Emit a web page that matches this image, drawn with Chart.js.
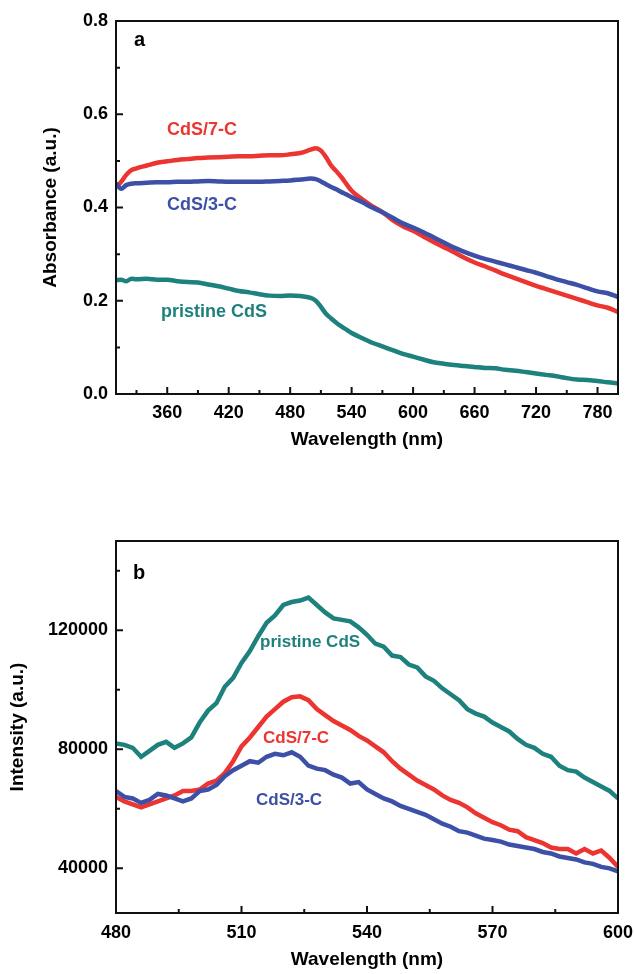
<!DOCTYPE html>
<html>
<head>
<meta charset="utf-8">
<script src="https://cdn.jsdelivr.net/npm/chart.js@4.4.1/dist/chart.umd.min.js"></script>
<style>
  html, body { margin: 0; padding: 0; background: #fff; }
  #wrap { position: relative; width: 634px; height: 974px; }
  .box { position: absolute; left: 0; width: 634px; }
</style>
</head>
<body>
<div id="wrap">
  <div class="box" style="top:0;height:470px"><canvas id="absChart"></canvas></div>
  <div class="box" style="top:470px;height:504px"><canvas id="plChart"></canvas></div>
</div>
<script>
// panel a - UV-vis absorbance
const wavelengthA = [310, 315, 320, 325, 330, 340, 350, 360, 370, 380, 390, 400, 410, 420, 430, 440, 450, 460, 470, 480, 490, 500, 505, 510, 515, 520, 525, 530, 535, 540, 550, 560, 570, 580, 590, 600, 610, 620, 630, 640, 650, 660, 670, 680, 690, 700, 710, 720, 730, 740, 750, 760, 770, 780, 790, 800];
const abs7C = [0.444, 0.455, 0.470, 0.480, 0.484, 0.490, 0.496, 0.499, 0.502, 0.504, 0.506, 0.507, 0.508, 0.509, 0.510, 0.510, 0.511, 0.512, 0.512, 0.514, 0.517, 0.524, 0.527, 0.522, 0.508, 0.490, 0.478, 0.465, 0.450, 0.436, 0.418, 0.403, 0.390, 0.373, 0.360, 0.350, 0.338, 0.326, 0.315, 0.304, 0.292, 0.282, 0.274, 0.265, 0.256, 0.248, 0.240, 0.232, 0.225, 0.218, 0.211, 0.204, 0.197, 0.190, 0.185, 0.176];
const abs3C = [0.452, 0.440, 0.448, 0.451, 0.452, 0.453, 0.454, 0.454, 0.455, 0.455, 0.456, 0.457, 0.456, 0.455, 0.455, 0.455, 0.455, 0.456, 0.457, 0.458, 0.460, 0.462, 0.461, 0.456, 0.450, 0.444, 0.439, 0.433, 0.428, 0.422, 0.412, 0.400, 0.390, 0.378, 0.366, 0.357, 0.347, 0.336, 0.325, 0.314, 0.305, 0.297, 0.290, 0.284, 0.278, 0.272, 0.266, 0.260, 0.253, 0.246, 0.240, 0.234, 0.227, 0.220, 0.216, 0.208];
const absPristine = [0.244, 0.245, 0.242, 0.247, 0.246, 0.247, 0.245, 0.245, 0.242, 0.240, 0.239, 0.235, 0.231, 0.226, 0.221, 0.218, 0.214, 0.211, 0.210, 0.211, 0.210, 0.206, 0.200, 0.187, 0.172, 0.162, 0.153, 0.145, 0.138, 0.131, 0.120, 0.110, 0.102, 0.094, 0.086, 0.080, 0.074, 0.068, 0.065, 0.062, 0.060, 0.058, 0.056, 0.055, 0.052, 0.050, 0.047, 0.044, 0.041, 0.038, 0.034, 0.031, 0.030, 0.028, 0.025, 0.023];

// panel b - PL spectra
const wavelengthB = [480, 482, 484, 486, 488, 490, 492, 494, 496, 498, 500, 502, 504, 506, 508, 510, 512, 514, 516, 518, 520, 522, 524, 526, 528, 530, 532, 534, 536, 538, 540, 542, 544, 546, 548, 550, 552, 554, 556, 558, 560, 562, 564, 566, 568, 570, 572, 574, 576, 578, 580, 582, 584, 586, 588, 590, 592, 594, 596, 598, 600];
const plPristine = [82000, 81500, 80500, 77500, 79500, 81500, 82500, 80500, 82000, 84000, 89000, 93000, 95500, 101000, 104000, 109000, 113000, 118000, 122500, 125000, 128500, 129500, 130000, 131000, 128500, 126000, 124000, 123500, 123000, 121000, 118500, 115500, 114500, 111500, 111000, 108500, 107500, 104500, 103000, 100500, 98500, 96500, 93500, 92000, 91000, 89000, 87500, 86000, 83500, 81500, 80500, 78500, 77500, 74500, 73000, 72500, 70500, 69000, 67500, 66000, 63500];
const pl7C = [64000, 62500, 61500, 60500, 61500, 62500, 63500, 64500, 66000, 66000, 66500, 68500, 69500, 72000, 76000, 81000, 84000, 87500, 91000, 93500, 96000, 97500, 97800, 96500, 93500, 91500, 89500, 88000, 86500, 84500, 83000, 81000, 79000, 76000, 73500, 71500, 69500, 68000, 66500, 64500, 63000, 62000, 60500, 58500, 57000, 55500, 54500, 53000, 52500, 50500, 49500, 48500, 47000, 46500, 46500, 45000, 46500, 45000, 46000, 43500, 40500];
const pl3C = [66000, 64000, 63500, 62000, 63000, 65000, 64500, 63500, 62500, 63500, 66000, 66500, 68000, 71000, 73000, 74500, 76000, 75500, 77500, 78500, 78000, 79000, 77500, 74500, 73500, 73000, 71500, 70500, 68500, 69000, 66500, 65000, 63500, 62500, 61000, 60000, 59000, 58000, 56500, 55000, 54000, 52500, 52000, 51000, 50000, 49500, 49000, 48000, 47500, 47000, 46500, 45500, 45000, 44000, 43500, 43000, 42000, 41500, 40500, 40000, 39000];

const ticksAX = [330, 360, 390, 420, 450, 480, 510, 540, 570, 600, 630, 660, 690, 720, 750, 780];
const ticksBY = [40000, 60000, 80000, 100000, 120000, 140000];

const RED = '#ec3530';
const BLUE = '#3b50a6';
const TEAL = '#1d817d';
const FONT = '"Liberation Sans", Arial, sans-serif';

function pts(xs, ys) {
    return xs.map((x, i) => ({ x: x, y: ys[i] }));
}

// frame, inward ticks, titles and in-plot labels
const decor = {
    id: 'decor',
    afterDraw(chart, args, opts) {
        const ctx = chart.ctx;
        const a = chart.chartArea;
        const sx = chart.scales.x, sy = chart.scales.y;
        ctx.save();
        ctx.strokeStyle = '#111';
        ctx.lineWidth = 2;
        ctx.beginPath();
        sx.ticks.forEach(t => {
            const px = sx.getPixelForValue(t.value);
            const len = t.label ? 7 : 4;
            ctx.moveTo(px, a.bottom);
            ctx.lineTo(px, a.bottom - len);
        });
        sy.ticks.forEach(t => {
            const py = sy.getPixelForValue(t.value);
            const len = t.label ? 7 : 4;
            ctx.moveTo(a.left, py);
            ctx.lineTo(a.left + len, py);
        });
        ctx.stroke();
        ctx.strokeRect(a.left, a.top, a.right - a.left, a.bottom - a.top);

        ctx.fillStyle = '#000';
        ctx.textAlign = 'center';
        ctx.textBaseline = 'middle';
        ctx.font = 'bold 19px ' + FONT;
        ctx.fillText(opts.xTitle, (a.left + a.right) / 2, opts.xTitleY);
        ctx.save();
        ctx.translate(opts.yTitleX, (a.top + a.bottom) / 2);
        ctx.rotate(-Math.PI / 2);
        ctx.fillText(opts.yTitle, 0, 0);
        ctx.restore();

        opts.labels.forEach(l => {
            ctx.fillStyle = l.color;
            ctx.font = 'bold ' + l.size + 'px ' + FONT;
            ctx.textAlign = 'left';
            ctx.fillText(l.text, l.x, l.y);
        });
        ctx.restore();
    }
};

function baseLine(label, data, color, order, smooth) {
    return {
        label: label,
        data: data,
        borderColor: color,
        backgroundColor: color,
        borderWidth: 4.5,
        pointRadius: 0,
        fill: false,
        order: order,
        cubicInterpolationMode: smooth ? 'monotone' : 'default',
        tension: 0
    };
}

const tickFont = { family: FONT, size: 18, weight: 'bold' };
const noGrid = { display: false, drawTicks: false };

new Chart(document.getElementById('absChart'), {
    type: 'line',
    data: {
        datasets: [
            baseLine('CdS/3-C', pts(wavelengthA, abs3C), BLUE, 0, true),
            baseLine('CdS/7-C', pts(wavelengthA, abs7C), RED, 1, true),
            baseLine('pristine CdS', pts(wavelengthA, absPristine), TEAL, 2, true)
        ]
    },
    options: {
        responsive: true,
        maintainAspectRatio: false,
        animation: false,
        layout: { padding: { top: 21, right: 16, left: 0, bottom: 0 } },
        scales: {
            x: {
                type: 'linear',
                min: 310, max: 800,
                grid: noGrid,
                border: { display: false },
                afterBuildTicks: axis => { axis.ticks = ticksAX.map(v => ({ value: v })); },
                afterFit: axis => { axis.height = 76; axis.paddingLeft = 0; axis.paddingRight = 0; },
                ticks: {
                    autoSkip: false, maxRotation: 0, padding: 8,
                    color: '#000', font: tickFont,
                    callback: v => (v % 60 === 0 ? String(v) : '')
                }
            },
            y: {
                min: 0, max: 0.8,
                grid: noGrid,
                border: { display: false },
                afterFit: axis => { axis.width = 116; },
                ticks: {
                    stepSize: 0.1, padding: 8, autoSkip: false,
                    color: '#000', font: tickFont,
                    callback: v => (Math.round(v * 10) % 2 === 0 ? v.toFixed(1) : '')
                }
            }
        },
        plugins: {
            legend: { display: false },
            tooltip: { enabled: false },
            decor: {
                xTitle: 'Wavelength (nm)', xTitleY: 440,
                yTitle: 'Absorbance (a.u.)', yTitleX: 51,
                labels: [
                    { text: 'a', x: 134, y: 40, color: '#000', size: 20 },
                    { text: 'CdS/7-C', x: 167, y: 130, color: RED, size: 18 },
                    { text: 'CdS/3-C', x: 167, y: 205, color: BLUE, size: 18 },
                    { text: 'pristine CdS', x: 161, y: 312, color: TEAL, size: 18 }
                ]
            }
        }
    },
    plugins: [decor]
});

new Chart(document.getElementById('plChart'), {
    type: 'line',
    data: {
        datasets: [
            baseLine('CdS/3-C', pts(wavelengthB, pl3C), BLUE, 0, false),
            baseLine('CdS/7-C', pts(wavelengthB, pl7C), RED, 1, false),
            baseLine('pristine CdS', pts(wavelengthB, plPristine), TEAL, 2, false)
        ]
    },
    options: {
        responsive: true,
        maintainAspectRatio: false,
        animation: false,
        layout: { padding: { top: 71, right: 16, left: 0, bottom: 0 } },
        scales: {
            x: {
                type: 'linear',
                min: 480, max: 600,
                grid: noGrid,
                border: { display: false },
                afterFit: axis => { axis.height = 61; axis.paddingLeft = 0; axis.paddingRight = 0; },
                ticks: {
                    stepSize: 15, autoSkip: false, maxRotation: 0, padding: 9,
                    color: '#000', font: tickFont,
                    callback: v => (v % 30 === 0 ? String(v) : '')
                }
            },
            y: {
                min: 25000, max: 150000,
                grid: noGrid,
                border: { display: false },
                afterBuildTicks: axis => { axis.ticks = ticksBY.map(v => ({ value: v })); },
                afterFit: axis => { axis.width = 116; },
                ticks: {
                    padding: 8, autoSkip: false,
                    color: '#000', font: tickFont,
                    callback: v => (v % 40000 === 0 ? String(v) : '')
                }
            }
        },
        plugins: {
            legend: { display: false },
            tooltip: { enabled: false },
            decor: {
                xTitle: 'Wavelength (nm)', xTitleY: 490,
                yTitle: 'Intensity (a.u.)', yTitleX: 18,
                labels: [
                    { text: 'b', x: 133, y: 103, color: '#000', size: 20 },
                    { text: 'pristine CdS', x: 260, y: 172, color: TEAL, size: 17 },
                    { text: 'CdS/7-C', x: 263, y: 268, color: RED, size: 17 },
                    { text: 'CdS/3-C', x: 256, y: 330, color: BLUE, size: 17 }
                ]
            }
        }
    },
    plugins: [decor]
});
</script>
</body>
</html>
